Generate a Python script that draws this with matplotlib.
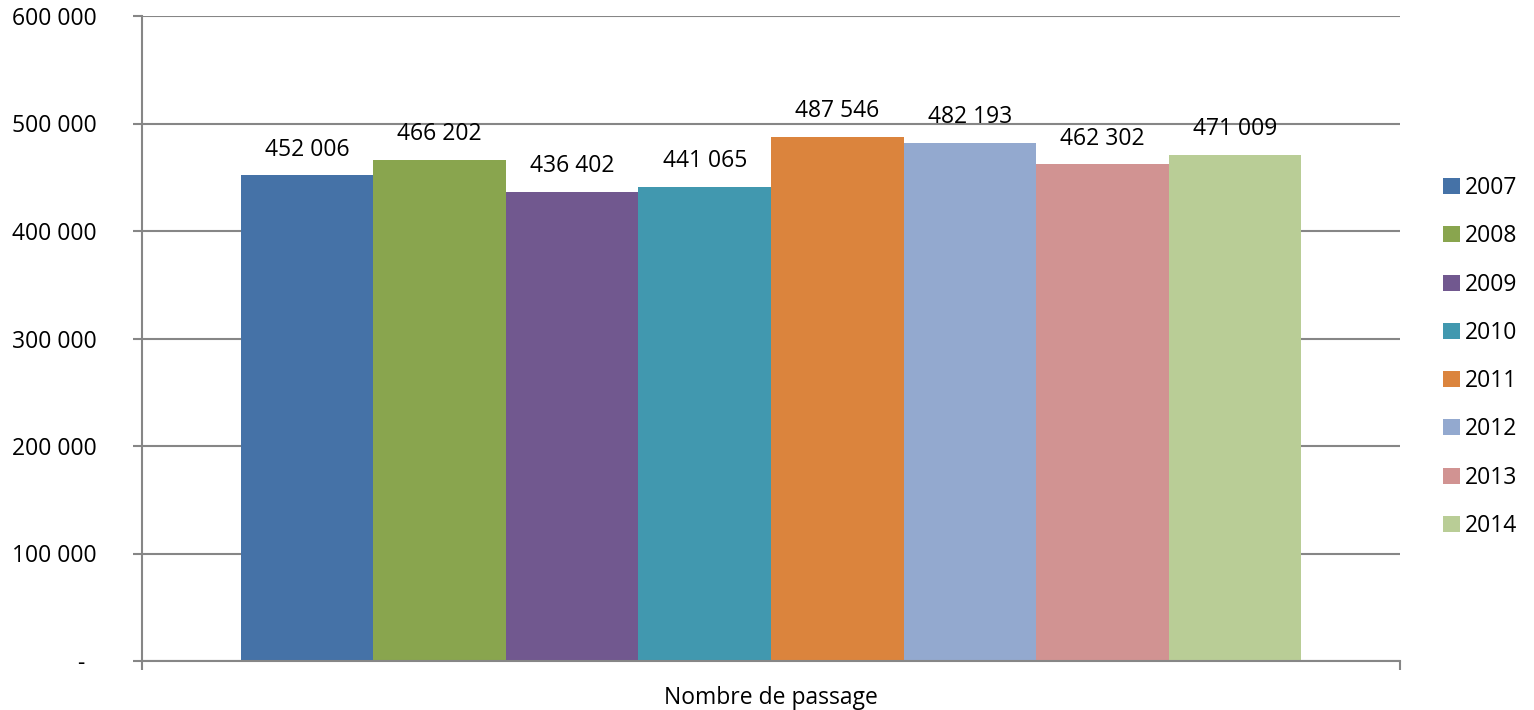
import matplotlib
matplotlib.use("Agg")
import matplotlib.pyplot as plt
from matplotlib.patches import Patch
from matplotlib.ticker import FuncFormatter

# ---------------------------------------------------------
# Data
# ---------------------------------------------------------
years = ["2007", "2008", "2009", "2010", "2011", "2012", "2013", "2014"]
passages = [452006, 466202, 436402, 441065, 487546, 482193, 462302, 471009]
colors = ["#4572A7", "#89A54E", "#71588F", "#4198AF",
          "#DB843D", "#93A9CF", "#D19392", "#B9CD96"]
category = "Nombre de passage"
y_ticks = [0, 100000, 200000, 300000, 400000, 500000, 600000]

plt.rcParams["font.family"] = ["Open Sans", "DejaVu Sans"]
FS = 16.5
GRID = "#868686"


def fmt(v, pos=None):
    if v == 0:
        return "-  "
    return f"{int(v):,}".replace(",", " ")


fig = plt.figure(figsize=(15.34, 7.10), dpi=100)
ax = fig.add_axes([142 / 1534, 1 - 661 / 710, (1400 - 142) / 1534, (661 - 16) / 710])

group = 0.8434
w = group / len(years)
for i, (yr, v, c) in enumerate(zip(years, passages, colors)):
    x = -group / 2 + w * (i + 0.5)
    ax.bar(x, v, width=w, color=c, zorder=3, linewidth=0)
    ax.annotate(fmt(v), (x, v), xytext=(0, 14), textcoords="offset points",
                ha="center", va="baseline", fontsize=FS)

ax.set_xlim(-0.5, 0.5)
ax.set_ylim(0, 600000)
ax.set_yticks(y_ticks)
ax.yaxis.set_major_formatter(FuncFormatter(fmt))
ax.grid(axis="y", color=GRID, linewidth=1.5, zorder=0)

ax.set_xticks([-0.5, 0.5])
ax.set_xticklabels(["", ""])
ax.set_xticks([0], minor=True)
ax.set_xticklabels([category], minor=True, fontsize=FS)
ax.tick_params(axis="x", which="major", length=6.5, width=1.5, color=GRID, direction="out")
ax.tick_params(axis="x", which="minor", length=0, pad=18)
ax.tick_params(axis="y", length=6.5, width=1.5, color=GRID, labelsize=FS, pad=26)

for s in ["top", "right"]:
    ax.spines[s].set_visible(False)
for s in ["left", "bottom"]:
    ax.spines[s].set_color(GRID)
    ax.spines[s].set_linewidth(1.5)
    ax.spines[s].set_zorder(4)

handles = [Patch(facecolor=c, edgecolor="none") for c in colors]
fig.legend(handles, years, loc="center left", bbox_to_anchor=(1432 / 1534, 1 - 357 / 710),
           frameon=False, fontsize=FS, handlelength=0.7, handleheight=0.7,
           handletextpad=0.25, labelspacing=1.06, borderpad=0)

fig.savefig("out.png", dpi=100)
